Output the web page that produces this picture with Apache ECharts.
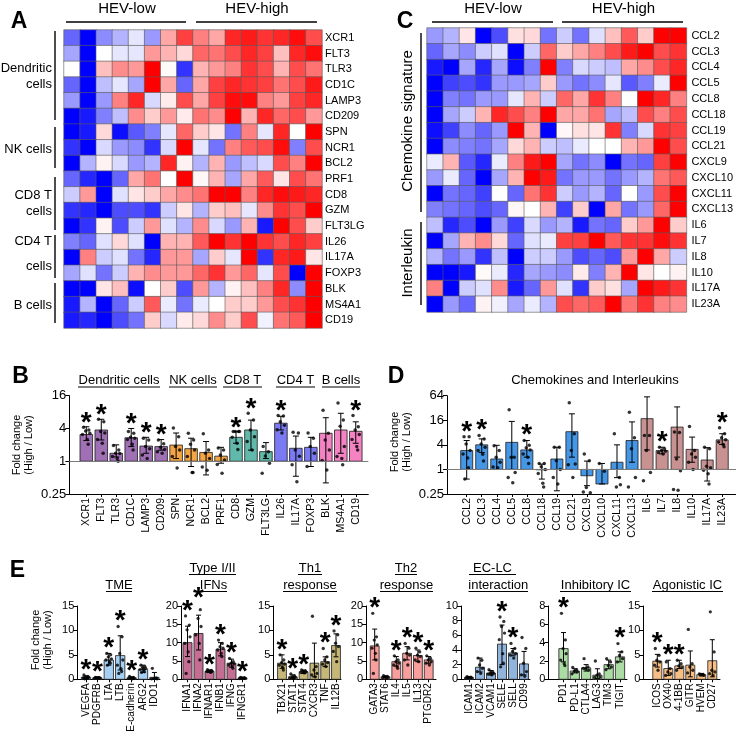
<!DOCTYPE html>
<html><head><meta charset="utf-8">
<script src="https://cdn.jsdelivr.net/npm/echarts@6/dist/echarts.min.js"></script>
<style>html,body{margin:0;padding:0;background:#fff}#c{width:736px;height:742px}</style>
</head><body><div id="c"></div>
<script>
// ---------------- DATA ----------------
const heatSamples = ['L1','L2','L3','L4','L5','L6','L7','L8','H1','H2','H3','H4','H5','H6','H7','H8'];
const heatAGenes = ['XCR1','FLT3','TLR3','CD1C','LAMP3','CD209','SPN','NCR1','BCL2','PRF1','CD8','GZM','FLT3LG','IL26','IL17A','FOXP3','BLK','MS4A1','CD19'];
const heatA = [
 [-0.6,-1,-0.45,-0.3,-0.1,-0.4,0.35,0.75,0.5,0.35,0.85,0.9,0.8,0.85,0.95,0.7],
 [-0.35,-1,0,-0.1,-0.1,0.4,0.3,0.15,0.6,0.55,0.7,0.85,0.75,0.25,0.85,0.95],
 [0,-1,0.25,0.45,0.4,1,0.02,-0.8,0.3,0.4,0.5,0.8,0.7,0.3,0.7,0.55],
 [-0.6,-1,-0.25,-0.1,-0.35,1,0.35,-0.6,0.35,0.75,0.85,0.8,0.75,0.55,0.7,0.9],
 [-0.4,-1,-0.4,0.5,0.85,-0.15,0.08,0.7,0.35,0.75,0.95,0.95,0.5,0.4,0.75,0.85],
 [-1,-0.9,-0.5,-0.25,0.45,0.2,0.4,0.08,0.55,0.45,1,0.3,0.85,0.6,0.7,0.4],
 [-1,-0.9,0.15,-0.95,-0.65,-0.5,-0.1,0.6,0.2,0.1,-0.55,0.5,-0.1,0.85,0,1],
 [-0.8,-1,-0.15,-0.4,-0.45,-0.8,-0.15,1,-0.1,-0.55,0.5,0.65,0.7,0.95,-0.5,0.7],
 [-1,-0.3,0.05,-0.15,-0.4,-0.3,0.85,0.05,-0.3,0.3,-0.4,-0.25,-0.15,0.7,0.5,1],
 [-0.6,-0.85,-1,-0.6,0.35,0.55,0,1,0.03,0.3,-0.35,0.35,0.65,0.1,0.7,0.55],
 [-0.2,0.4,-1,-0.12,0.1,0.2,0.35,0.45,0.55,1,1,0.5,0.85,0.95,0.9,0.85],
 [-0.8,-0.85,-1,-0.7,-0.7,-0.8,-0.2,0.1,-0.3,0.2,0.25,-0.1,0.45,0.8,0.7,1],
 [-1,-0.8,0.05,-0.7,-0.2,0.4,-0.12,-0.3,0.45,-0.15,-0.4,0.3,-0.9,1,0.7,0.2],
 [-0.5,-0.6,-0.12,0.15,-0.12,-1,0.3,0.3,0.65,1,0.8,1,0.8,0.7,0.85,0.75],
 [-1,0.5,-0.2,-0.12,-0.55,-0.85,0.4,0.4,-0.35,0.2,-0.1,1,-0.8,0.85,0.9,0.1],
 [-0.35,-0.12,-0.55,-0.2,0.3,0.45,0.4,0.4,0.6,0.8,0.4,0.6,-0.1,0.7,-1,1],
 [-1,-1,0.1,0.25,-0.95,0,0.2,-0.7,0.4,-0.3,0.05,0.25,0.5,0.85,-0.45,1],
 [-0.9,-0.3,-1,-0.6,-0.2,0.65,-0.08,-0.55,-0.08,0,0.2,0.2,0.4,0.7,0.8,1],
 [-0.9,-0.85,-1,-0.7,-0.55,0.2,-0.15,0.08,0.15,0.45,0.2,0.7,-0.05,0.55,0.65,1]
];
const heatCGenes = ['CCL2','CCL3','CCL4','CCL5','CCL8','CCL18','CCL19','CCL21','CXCL9','CXCL10','CXCL11','CXCL13','IL6','IL7','IL8','IL10','IL17A','IL23A'];
const heatC = [
 [-0.4,-0.3,0.1,-1,-0.7,0.12,0.15,-0.55,-0.2,-0.55,-0.12,0.25,0.65,0.2,1,1],
 [-0.6,-0.35,-0.45,-0.2,-0.12,-1,-0.2,0.6,0.2,0.35,0.5,0.7,0.9,1,0.7,0.8],
 [-0.9,-1,-0.35,-0.85,-0.35,-0.95,-0.5,1,-0.5,-0.15,-0.2,-0.25,0.35,0.45,0.7,0.85],
 [-1,-0.75,-0.7,-0.8,-0.4,-0.4,-0.35,0.2,-0.4,-0.55,-0.45,-0.1,-0.65,-0.5,-0.08,1],
 [-1,-0.5,-0.55,-0.4,-0.4,-0.1,0.3,-0.2,0.6,0.35,0.8,0.5,0,1,0.85,0.5],
 [-1,-0.35,-0.2,0.3,0.85,0.7,0.5,1,0.35,0.35,0.55,-0.35,-0.25,0.7,0.5,0.7],
 [-0.95,-0.75,-0.45,-0.6,-0.4,1,0.3,-1,0.03,0.12,0.1,0.8,-0.5,-0.15,0.8,0.75],
 [-1,-0.45,-0.5,-0.55,-0.35,0.15,0.3,-0.2,-0.25,-0.08,0,0,0.3,0.4,1,0.7],
 [-0.08,0.3,-0.65,-0.85,-0.08,0.5,0.9,1,-0.35,-0.55,-0.45,-1,-0.55,-0.6,0.75,1],
 [-0.4,-0.08,-0.6,-1,-0.35,0.3,1,0.9,-0.55,-0.4,-0.4,-0.55,-0.4,-0.3,0.55,0.65],
 [-1,-0.55,-0.6,-0.75,0,-0.6,0.55,0.8,-0.2,-0.4,-0.3,-0.6,0,-0.4,0.7,1],
 [-0.5,-0.55,-0.6,-0.7,-0.6,0.03,0,0.3,-0.75,0.2,-1,0.35,-0.55,-0.4,0.6,1],
 [-0.25,-0.85,-0.7,-1,-0.4,-0.75,-0.15,-0.4,-0.3,-0.9,-0.55,-0.6,0.2,0.4,1,0.2],
 [-1,-0.35,0.3,0.45,0.15,-0.6,-0.12,-0.08,0.75,0.75,1,0.65,0.8,0.8,0.95,0.8],
 [-0.3,-0.55,-0.4,-0.8,-0.25,-1,-0.2,-0.2,-0.4,-0.7,-0.6,-0.7,0.4,1,0.35,-0.2],
 [-1,-1,-0.9,0.02,-0.08,-0.85,-0.35,-0.4,-0.45,0.08,-0.5,0.3,1,0.1,0,0.05],
 [0.5,-1,-0.2,-0.12,0.45,-0.9,-0.6,0.4,-0.12,-0.8,0.2,0.12,-0.35,1,0.9,0.8],
 [-1,-0.4,-0.6,0.05,-0.06,-0.35,-0.08,-0.3,0.7,0.6,0.65,1,0.55,0.8,0.5,0.45]
];

// Panel B
const bCats = ['XCR1','FLT3','TLR3','CD1C','LAMP3','CD209','SPN','NCR1','BCL2','PRF1','CD8','GZM','FLT3LG','IL26','IL17A','FOXP3','BLK','MS4A1','CD19'];
const bGroup = [0,0,0,0,0,0,1,1,1,1,2,2,2,3,3,3,4,4,4];
const bMean = [3.1,3.75,1.4,2.7,1.9,1.86,1.98,1.7,1.45,1.24,2.75,3.75,1.5,5.0,1.73,1.8,3.26,3.75,3.55];
const bHi = [4.3,5.9,2.0,4.0,2.75,2.5,3.3,2.65,2.3,1.8,3.5,5.7,2.2,6.7,2.9,2.75,6.3,7.6,5.3];
const bLo = [2.4,2.46,1.2,1.86,1.4,1.6,1.12,0.8,0.56,0.92,2.14,1.6,1.12,3.75,0.53,0.8,0.4,1.4,2.14];
const bSig = [1,1,0,1,1,1,0,0,0,0,1,1,0,1,0,0,0,0,1];
const bDots = [
 [4.2,3.75,3.6,3.26,3.1,2.5,2.05],
 [5.9,5.3,3.5,3.3,2.5,2.14,1.4],
 [1.95,1.6,1.4,1.38,1.22,1.12,1.0],
 [3.5,3.26,2.75,2.65,2.5,2.05,1.61],
 [2.65,2.46,1.86,1.7,1.3,1.12],
 [2.46,2.1,1.8,1.65,1.5,1.4],
 [4.1,2.83,1.86,1.61,1.22,0.75],
 [3.26,2.46,2.05,1.61,1.22,0.62,0.62],
 [3.2,1.61,1.4,1.12,0.78,0.68],
 [1.75,1.6,1.3,1.05,0.87,0.6],
 [3.5,3.5,3.5,3.5,2.75,2.14,1.65],
 [7.6,5.7,3.75,2.83,2.3,1.6],
 [1.86,1.5,1.25,0.92,0.6],
 [6.9,6.8,5.3,4.6,3.8,3.3],
 [3.4,3.3,1.61,1.24,0.86,0.42],
 [3.3,2.65,1.86,1.4,0.8],
 [8.6,3.26,2.46,1.61,1.03,0.69],
 [11.8,5.7,4.4,1.86,1.22,1.12,0.86],
 [6.9,4.3,3.75,3.1,2.5,1.86,1.61]
];
const bHeaders = ['Dendritic cells','NK cells','CD8 T','CD4 T','B cells'];

// Panel D
const dCats = ['CCL2','CCL3','CCL4','CCL5','CCL8','CCL18','CCL19','CCL21','CXCL9','CXCL10','CXCL11','CXCL13','IL6','IL7','IL8','IL10','IL17A','IL23A'];
const dGroup = [0,0,0,0,0,0,0,0,0,0,0,0,1,1,1,1,1,1];
const dMean = [2.9,4.0,1.8,4.6,3.0,0.98,1.8,8.4,0.7,0.44,1.5,5.1,17.5,2.9,10.9,3.1,1.7,5.3];
const dHi = [5.1,5.6,3.9,15,5.1,1.35,3.5,23,1.6,1.4,4.0,14.6,60,3.5,34,6.2,3.4,7.5];
const dLo = [0.58,2.6,1.0,1.0,2.0,0.58,0.3,2.0,0.4,0.44,0.63,1.5,3.0,2.4,2.0,1.5,0.52,4.1];
const dSig = [1,1,0,0,1,0,0,0,0,0,0,0,0,1,0,0,0,1];
const dDots = [
 [6.3,6.3,4.2,2.9,2.4,1.9,1.1,0.58],
 [6.8,5.6,4.2,3.5,2.9,2.35,1.6],
 [3.8,2.9,2.0,1.5,1.15,1.1],
 [29,2.0,2.0,0.84,0.63,0.47],
 [5.1,3.9,3.4,3.0,2.4,2.0,1.4],
 [1.4,1.4,1.16,1.0,0.8,0.46,0.37],
 [3.5,3.5,1.64,1.0,0.63,0.44],
 [43,7.5,2.9,1.36,1.3,0.63],
 [2.4,1.64,0.36,0.27,0.28],
 [1.4,0.9],
 [7.5,0.63,0.37,0.42],
 [25,6.0,3.2,0.63,0.37],
 [6.8,6.8,2.9,0.84,0.53],
 [3.5,3.2,2.9,2.8,2.6,2.4],
 [8.3,8.0,1.8,0.93,0.32,0.31],
 [11.2,2.9,2.4,2.0,1.5,1.0],
 [3.5,3.2,1.2,1.1,0.95,0.78,0.44],
 [10.5,7.5,6.0,5.3,4.7,4.1,3.6]
];

// Panel E
const tmeCats = ['VEGFA','PDGFRB','LTA','LTB','E-cadherin','ARG2','IDO1'];
const tmeMean = [0.4,0.3,3.95,4.85,0.3,2.05,0.4];
const tmeHi = [0.7,0.5,5.3,8.9,0.5,2.9,1.4];
const tmeLo = [0.2,0.15,2.9,1.9,0.15,1.4,0.05];
const tmeSig = [1,1,1,1,1,1,0];
const tmeDots = [[0.9,0.6,0.5,0.4,0.3,0.2,0.2,0.1],[0.4,0.35,0.3,0.25,0.2,0.3,0.2],[5.3,5.0,4.6,4.2,3.95,3.6,3.3,2.9],[10.8,8.7,5.3,3.95,2.9,2.2,1.6,1.2],[0.6,0.4,0.3,0.2,0.2,0.1],[2.9,2.6,2.4,2.25,2.0,1.9,1.55,1.4],[2.25,0.3,0.2,0.1,0.1]];

const ifnCats = ['IFNA1','IFNA2','IFNAR1','IFNB1','IFNG','IFNGR1'];
const ifnMean = [10.0,12.5,2.2,8.2,4.4,0.4];
const ifnHi = [14.5,17.5,2.5,10.0,5.5,0.6];
const ifnLo = [6.2,8.0,1.9,6.4,3.3,0.2];
const ifnSig = [1,1,1,1,1,1];
const ifnDots = [[17.3,14.8,13.5,11.6,9.8,7.5,4.8,1.6],[20.7,19.0,16.6,14.4,12.1,9.8,5.3],[2.6,2.4,2.3,2.2,2.1,2.0,1.9],[10.7,9.8,8.9,8.5,8.0,7.1,6.2],[5.7,4.8,4.4,4.2,3.9,3.5,3.0],[0.5,0.4,0.3,0.3,0.2]];

const th1Cats = ['TBX21','STAT1','STAT4','CXCR3','TNF','IL12B'];
const th1Mean = [3.3,0.5,1.55,3.3,3.6,6.9];
const th1Hi = [5.0,0.9,1.9,7.4,4.6,9.3];
const th1Lo = [2.25,0.2,1.2,0.5,2.6,4.6];
const th1Sig = [1,1,1,0,1,1];
const th1Dots = [[5.0,3.95,3.4,3.1,2.9,2.45,1.9],[1.1,0.7,0.5,0.4,0.3,0.15],[1.9,1.7,1.6,1.5,1.4,1.3],[12.9,2.6,1.9,1.2,0.9,0.5],[6.3,4.6,3.95,3.4,3.1,2.6],[9.9,9.1,7.4,6.7,5.7,3.6]];

const th2Cats = ['GATA3','STAT6','IL4','IL5','IL13','PTGDR2'];
const th2Mean = [9.1,0.7,4.8,7.1,6.5,5.3];
const th2Hi = [13.7,0.9,6.2,8.9,8.0,6.2];
const th2Lo = [5.3,0.5,3.6,5.3,4.8,4.4];
const th2Sig = [1,0,1,1,1,1];
const th2Dots = [[18,11.6,10.7,9.4,8.5,7.1,5.3,1.6],[1.0,0.8,0.7,0.5,0.4,0.3],[6.4,5.3,4.8,4.4,3.9,3.5,3.0],[9.8,8.5,7.1,6.6,5.3,3.9],[8.5,7.5,6.6,6.2,5.3,4.8],[6.4,5.7,5.3,4.8,4.4,3.9]];

const eclcCats = ['ICAM1','ICAM2','VCAM1','SELE','SELL','CD99'];
const eclcMean = [0.25,1.65,0.85,4.8,3.6,2.1];
const eclcHi = [0.35,2.9,1.2,7.4,4.2,3.8];
const eclcLo = [0.15,1.0,0.6,2.0,3.2,0.6];
const eclcSig = [0,0,0,1,1,0];
const eclcDots = [[0.35,0.3,0.25,0.2,0.2],[2.9,2.6,1.95,1.5,1.05,0.8],[1.3,1.0,0.9,0.8,0.7,0.6],[8.5,7.9,7.2,6.3,5.4,3.5,2.2,1.7],[4.9,4.2,3.8,3.5,3.3,2.9],[5.7,4.2,2.2,1.05,0.6,0.4]];

const inhCats = ['PD1','PD-L1','CTLA4','LAG3','TIM3','TIGIT'];
const inhMean = [3.35,0.9,1.25,0.45,1.6,2.45];
const inhHi = [5.1,1.15,1.6,1.15,2.1,3.0];
const inhLo = [1.9,0.7,0.9,0.1,1.15,1.9];
const inhSig = [1,0,0,0,0,1];
const inhDots = [[7.2,4.3,3.35,2.8,2.1,1.7,1.5],[1.3,1.05,0.9,0.8,0.6],[2.25,1.35,1.15,1.0,1.2],[2.0,0.6,0.45,0.25,0.2],[2.25,1.9,1.5,1.35,1.05],[3.9,3.0,2.6,2.25,1.9]];

const agoCats = ['ICOS','OX40','4-1BB','GITR','HVEM','CD27'];
const agoMean = [3.7,2.2,2.75,2.9,0.95,3.8];
const agoHi = [5.1,3.9,3.9,5.8,1.2,8.1];
const agoLo = [2.5,0.8,2.2,0.5,0.7,0.5];
const agoSig = [1,1,1,0,0,0];
const agoDots = [[6.3,4.9,3.9,3.55,2.9,1.85],[3.55,2.2,1.5,1.15,0.8],[3.9,3.2,2.75,2.4,1.85],[10.2,3.2,2.5,1.85,1.3],[1.1,1.0,0.9,0.8],[13.8,5.6,1.85,1.5,1.15,0.8]];
const eYMax = [15,20,15,20,10,8,15];
const eYStep = [5,5,5,5,2,2,5];

// ---------------- STYLE / LAYOUT ----------------
const FONT = "'Liberation Sans', Arial, sans-serif";
const bColors = ['#a070b4','#f4a646','#62b8aa','#7a7af2','#f483c3'];
const dColors = ['#4597e6','#c89292'];
const eColors = ['#a5d0f4','#c46e94','#c6b778','#f89e9d','#90b4dc','#aadca3','#f7bf85'];
const jit = [-0.22,0.2,-0.05,0.28,-0.3,0.08,0.15,-0.15,0.25];

const grids = [], xAxes = [], yAxes = [], series = [];
const chart = echarts.init(document.getElementById('c'), null, {renderer:'canvas', width:736, height:742});

function addHeat(left, top, width, height, genes, mat, labelMargin) {
  const gi = grids.length;
  grids.push({left, top, width, height});
  xAxes.push({gridIndex:gi, type:'category', data:heatSamples, show:false});
  yAxes.push({gridIndex:gi, type:'category', data:genes, inverse:true, position:'right',
    axisLine:{show:false}, axisTick:{show:false}, splitLine:{show:false},
    axisLabel:{fontSize:11, color:'#000', fontFamily:FONT, margin:labelMargin}});
  const data = [];
  mat.forEach((row, r) => row.forEach((v, c) => data.push([c, r, v])));
  series.push({type:'heatmap', xAxisIndex:gi, yAxisIndex:gi, data,
    itemStyle:{borderColor:'#5a5a5a', borderWidth:0.6}, emphasis:{disabled:true}});
  return series.length - 1;
}

function addBars(o) {
  // o: left, top, height, first, step, right, cats, mean, lo, hi, sig, dots, colors, yAxis, base, barFrac, labelSize, starGap, starSize, baseLine
  const gi = grids.length;
  const xmin = -(o.first - o.left) / o.step;
  const xmax = (o.cats.length - 1) + (o.right - (o.first + (o.cats.length - 1) * o.step)) / o.step;
  grids.push({left:o.left, top:o.top, width:(xmax - xmin) * o.step, height:o.height});
  const idx = o.cats.map((c, i) => i);
  xAxes.push({gridIndex:gi, type:'value', min:xmin, max:xmax,
    axisLine:{show:true, onZero:false, lineStyle:{color:'#000', width:1}},
    axisTick:{show:true, customValues:idx, length:3, lineStyle:{color:'#000'}},
    splitLine:{show:false},
    axisLabel:{customValues:idx, rotate:90, fontSize:o.labelSize, color:'#000', fontFamily:FONT, margin:4,
      formatter:(v) => o.cats[Math.round(v)] || ''}});
  yAxes.push(Object.assign({gridIndex:gi,
    axisLine:{show:true, onZero:false, lineStyle:{color:'#000', width:1}},
    axisTick:{show:true, length:4, lineStyle:{color:'#000'}},
    splitLine:{show:false}, minorTick:{show:false},
    axisLabel:{fontSize:o.ySize, color:'#000', fontFamily:FONT, margin:3}}, o.yAxis));
  const base = o.base, bf = o.barFrac;
  const bar = {type:'custom', xAxisIndex:gi, yAxisIndex:gi, silent:true,
    data:o.mean.map((m, i) => [i, m]),
    renderItem(params, api) {
      const x = api.value(0), v = api.value(1);
      const p1 = api.coord([x - bf / 2, v]);
      const p0 = api.coord([x + bf / 2, base]);
      return {type:'rect', shape:{x:p1[0], y:Math.min(p0[1], p1[1]), width:p0[0] - p1[0], height:Math.abs(p0[1] - p1[1])},
        style:{fill:o.colors[params.dataIndex], stroke:'#1a1a1a', lineWidth:0.8}};
    }};
  if (o.baseLine) {
    bar.markLine = {silent:true, symbol:'none', label:{show:false}, animation:false,
      lineStyle:{color:'#7a7a7a', width:1, type:'solid'}, data:[{yAxis:base}]};
  }
  series.push(bar);
  const cap = o.cap;
  series.push({type:'custom', xAxisIndex:gi, yAxisIndex:gi, silent:true,
    data:o.mean.map((m, i) => [i, o.lo[i], o.hi[i]]),
    renderItem(params, api) {
      const x = api.value(0);
      const a = api.coord([x, api.value(1)]), b = api.coord([x, api.value(2)]);
      const st = {stroke:'#000', lineWidth:1};
      return {type:'group', children:[
        {type:'line', shape:{x1:a[0], y1:a[1], x2:b[0], y2:b[1]}, style:st},
        {type:'line', shape:{x1:b[0] - cap, y1:b[1], x2:b[0] + cap, y2:b[1]}, style:st},
        {type:'line', shape:{x1:a[0] - cap, y1:a[1], x2:a[0] + cap, y2:a[1]}, style:st}
      ]};
    }});
  const pts = [];
  o.dots.forEach((arr, i) => arr.forEach((v, j) => pts.push([i + jit[j % jit.length] * bf, v])));
  series.push({type:'scatter', xAxisIndex:gi, yAxisIndex:gi, silent:true, data:pts,
    symbolSize:o.dotSize, itemStyle:{color:'#000'}});
  const stars = [];
  o.sig.forEach((s, i) => { if (s) stars.push([i, Math.max(o.hi[i], Math.max.apply(null, o.dots[i]))]); });
  const sz = o.starSize, gap = o.starGap;
  series.push({type:'custom', xAxisIndex:gi, yAxisIndex:gi, silent:true, data:stars,
    renderItem(params, api) {
      const p = api.coord([api.value(0), api.value(1)]);
      return {type:'text', x:p[0], y:p[1] - gap + 0.22 * sz,
        style:{text:'*', fill:'#000', fontSize:sz, fontWeight:'bold', fontFamily:FONT, align:'center', verticalAlign:'middle'}};
    }});
}

const hA = addHeat(64, 30, 258, 298, heatAGenes, heatA, 3);
const hC = addHeat(427, 28, 260, 284, heatCGenes, heatC, 5);

addBars({left:69.3, top:395.7, height:98.3, first:86.3, step:14.97, right:368.3,
  cats:bCats, mean:bMean, lo:bLo, hi:bHi, sig:bSig, dots:bDots, colors:bGroup.map(g => bColors[g]),
  yAxis:{type:'log', logBase:4, min:0.25, max:16}, base:1, barFrac:0.84, labelSize:10.5, ySize:13,
  starGap:10, starSize:28, baseLine:true, cap:3, dotSize:3.5});
addBars({left:447, top:395.7, height:98.3, first:466.7, step:15.03, right:736,
  cats:dCats, mean:dMean, lo:dLo, hi:dHi, sig:dSig, dots:dDots, colors:dGroup.map(g => dColors[g]),
  yAxis:{type:'log', logBase:4, min:0.25, max:64}, base:1, barFrac:0.8, labelSize:10.5, ySize:13,
  starGap:11, starSize:28, baseLine:true, cap:3, dotSize:3.5});

const ePanels = [
  [77.3, 86, 11.4, 160, tmeCats, tmeMean, tmeLo, tmeHi, tmeSig, tmeDots],
  [181, 187.5, 11, 245, ifnCats, ifnMean, ifnLo, ifnHi, ifnSig, ifnDots],
  [273.3, 282, 10.8, 341, th1Cats, th1Mean, th1Lo, th1Hi, th1Sig, th1Dots],
  [366, 374.7, 10.8, 436, th2Cats, th2Mean, th2Lo, th2Hi, th2Sig, th2Dots],
  [461, 469, 11, 530, eclcCats, eclcMean, eclcLo, eclcHi, eclcSig, eclcDots],
  [548.3, 563.5, 11.3, 627, inhCats, inhMean, inhLo, inhHi, inhSig, inhDots],
  [643.3, 657.3, 11, 720, agoCats, agoMean, agoLo, agoHi, agoSig, agoDots]
];
ePanels.forEach((p, k) => addBars({left:p[0], top:606, height:73.3, first:p[1], step:p[2], right:p[3],
  cats:p[4], mean:p[5], lo:p[6], hi:p[7], sig:p[8], dots:p[9], colors:p[4].map(() => eColors[k]),
  yAxis:{type:'value', min:0, max:eYMax[k], interval:eYStep[k]}, base:0, barFrac:0.82, labelSize:10, ySize:11,
  starGap:11, starSize:28, baseLine:false, cap:2.5, dotSize:3.3}));

// ---------------- ANNOTATIONS ----------------
const g = [];
function txt(x, y, t, size, opt) {
  g.push(Object.assign({type:'text', x, y, silent:true,
    style:Object.assign({text:t, fill:'#000', fontSize:size, fontFamily:FONT, align:'center', verticalAlign:'middle'}, (opt && opt.style) || {})},
    opt && opt.rotation ? {rotation:opt.rotation} : {}));
}
function ln(x1, y1, x2, y2, w) {
  g.push({type:'line', silent:true, shape:{x1, y1, x2, y2}, style:{stroke:'#000', lineWidth:w || 1}});
}
const bold = {style:{fontWeight:'bold'}};
txt(19, 22, 'A', 23, bold); txt(405, 22, 'C', 23, bold);
txt(20.5, 377, 'B', 23, bold); txt(396, 377, 'D', 23, bold);
txt(17.5, 571, 'E', 23, bold);

// HEV headers
txt(127, 8.5, 'HEV-low', 15); txt(257, 8.5, 'HEV-high', 15);
ln(66, 22, 186, 22, 1.6); ln(196, 22, 317, 22, 1.6);
txt(493, 8.5, 'HEV-low', 15); txt(623.5, 8.5, 'HEV-high', 15);
ln(432, 22, 553, 22, 1.6); ln(562, 22, 683, 22, 1.6);

// A groups
const rA = {style:{align:'right'}};
txt(52, 68.3, 'Dendritic', 13, rA); txt(52, 84.3, 'cells', 13, rA);
txt(52, 149, 'NK cells', 13, rA);
txt(52, 195.7, 'CD8 T', 13, rA); txt(52, 211.7, 'cells', 13, rA);
txt(52, 241.7, 'CD4 T', 13, rA); txt(52, 266.7, 'cells', 13, rA);
txt(52, 305, 'B cells', 13, rA);
ln(55, 31, 55, 120, 1.4); ln(55, 127, 55, 168, 1.4); ln(55, 177, 55, 230, 1.4);
ln(55, 235, 55, 278, 1.4); ln(55, 283, 55, 323, 1.4);

// C groups
txt(408, 121, 'Chemokine signature', 15, {rotation:Math.PI / 2});
txt(408, 263, 'Interleukin', 15, {rotation:Math.PI / 2});
ln(421, 33, 421, 212, 1.4); ln(421, 222, 421, 305, 1.4);

// B headers
const bH = [[78, 160], [169, 217], [223, 262], [276, 315], [322, 360]];
bHeaders.forEach((h, i) => { txt((bH[i][0] + bH[i][1]) / 2, 380.5, h, 13); ln(bH[i][0], 387, bH[i][1], 387, 1); });
// D title
txt(595, 380.5, 'Chemokines and Interleukins', 13);

// y titles
txt(23, 445, 'Fold change\n(High / Low)', 11, {rotation:Math.PI / 2, style:{lineHeight:12}});
txt(401, 442, 'Fold change\n(High / Low)', 11, {rotation:Math.PI / 2, style:{lineHeight:12}});
txt(41.5, 640, 'Fold change\n(High / Low)', 11, {rotation:Math.PI / 2, style:{lineHeight:12}});

// E titles
const eT = [
  ['TME', 106, 132, 585], ['Type I/II', 189, 236, 568], ['IFNs', 200, 227, 585],
  ['Th1', 298, 322, 568], ['response', 283, 337, 585], ['Th2', 395, 417, 568], ['response', 380, 433, 585],
  ['EC-LC', 469, 516, 568], ['interaction', 468.5, 528, 585], ['Inhibitory IC', 560, 631, 585], ['Agonistic IC', 652, 723, 585]
];
eT.forEach(t => { txt((t[1] + t[2]) / 2, t[3], t[0], 13); ln(t[1], t[3] + 6.5, t[2], t[3] + 6.5, 1); });

chart.setOption({
  animation:false,
  textStyle:{fontFamily:FONT},
  grid:grids, xAxis:xAxes, yAxis:yAxes,
  visualMap:{show:false, type:'continuous', min:-1, max:1, seriesIndex:[hA, hC],
    inRange:{color:['#0000ff', '#ffffff', '#ff0000']}},
  series, graphic:g
});
</script></body></html>
